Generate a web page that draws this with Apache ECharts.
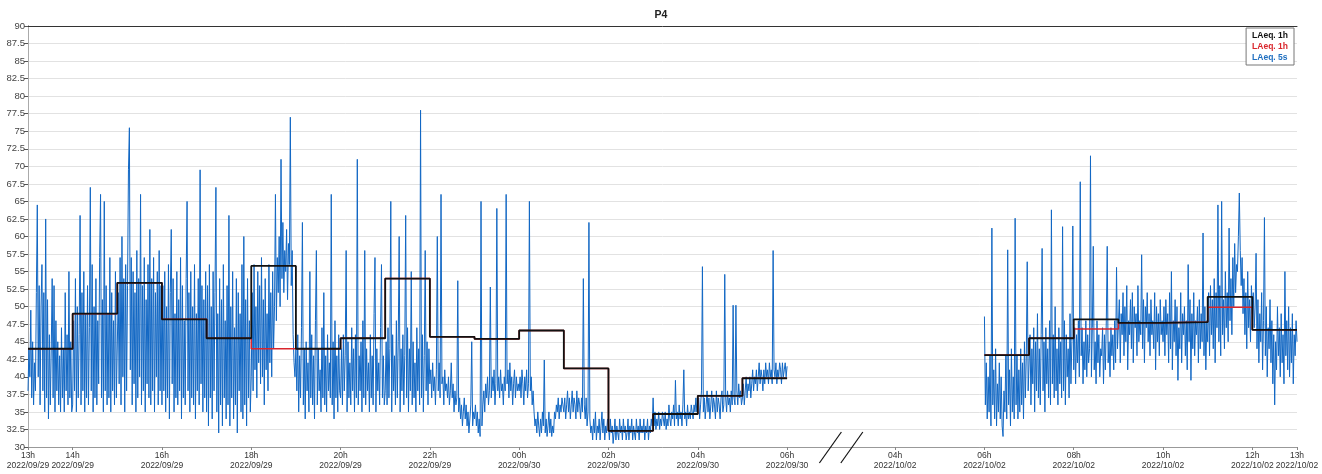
<!DOCTYPE html>
<html>
<head>
<meta charset="utf-8">
<script src="https://cdn.jsdelivr.net/npm/echarts@6/dist/echarts.min.js"></script>
<style>
html,body{margin:0;padding:0;background:#fff;}
#chart{width:1322px;height:474px;}
</style>
</head>
<body>
<div id="chart"></div>
<script>
// ---------------- DATA ----------------
// Axis break: data resumes after 2022/09/30 06h at 2022/10/02 04h (compressed gap, in axis hours)
const BREAK_GAP_HOURS = 2.42;

// X tick labels
const tickHours = ['13h','14h','16h','18h','20h','22h','00h','02h','04h','06h','04h','06h','08h','10h','12h','13h'];
const tickDates = ['2022/09/29','2022/09/29','2022/09/29','2022/09/29','2022/09/29','2022/09/29',
                   '2022/09/30','2022/09/30','2022/09/30','2022/09/30',
                   '2022/10/02','2022/10/02','2022/10/02','2022/10/02','2022/10/02','2022/10/02'];

// Hourly LAeq (first block: 2022/09/29 13h .. 2022/09/30 05h ; second block: 2022/10/02 06h .. 12h)
const hours1h_seg1 = ['2022/09/29 13','2022/09/29 14','2022/09/29 15','2022/09/29 16','2022/09/29 17','2022/09/29 18',
                      '2022/09/29 19','2022/09/29 20','2022/09/29 21','2022/09/29 22','2022/09/29 23','2022/09/30 00',
                      '2022/09/30 01','2022/09/30 02','2022/09/30 03','2022/09/30 04','2022/09/30 05'];
const laeq1hBlack_seg1 = [44.0,49.0,53.4,48.2,45.5,55.8,44.0,45.5,54.0,45.7,45.4,46.6,41.2,32.3,34.7,37.3,39.8];
const laeq1hRed_seg1   = [44.0,49.0,53.4,48.2,45.5,44.0,44.0,45.5,54.0,45.7,45.4,46.6,41.2,32.3,34.7,37.3,39.8];

const hours1h_seg2 = ['2022/10/02 06','2022/10/02 07','2022/10/02 08','2022/10/02 09','2022/10/02 10','2022/10/02 11','2022/10/02 12'];
const laeq1hBlack_seg2 = [43.1,45.5,48.2,47.7,47.8,51.4,46.7];
const laeq1hRed_seg2   = [43.1,45.5,46.8,47.7,47.8,49.9,46.7];

// LAeq 5s readings (one row per hour, evenly spaced within the hour)
const laeq5s_seg1 = [
  [38,44,40,49.5,37,45,36,42,38,52,64.5,40,53,36,50,56,38,52,35,62.5,37,51,34,46,36,44,54,37,53,35,48,38,45,36,43,35,47,37,44,35,52,38,46,36,55,37,45,35], // 13h
  [36,48,38,54,35,50,37,46,63,36,52,38,55,35,49,37,53,36,47,67,38,56,35,50,37,54,36,48,39,57,66,37,51,35,65,38,53,36,49,37,57,35,52,38,48,36,55,37],     // 14h
  [37,52,39,57,36,60,40,54,35,56,38,53,69.5,75.5,41,57,36,55,39,52,35,58,37,54,40,66,36,53,38,57,35,51,39,56,37,61,36,54,38,57,35,52,40,55,36,58,38,53], // 15h
  [36,53,38,55,35,50,37,56,34,52,61,39,54,35,49,37,55,36,51,38,57,34,53,37,48,36,54,65,38,52,35,55,37,50,36,56,34,49,38,54,36,69.5,39,53,35,51,37,55],   // 16h
  [35,53,33,56,37,50,34,55,38,52,67,35,49,32,54,36,51,33,56,37,48,34,53,36,63,33,50,37,55,34,47,36,54,32,52,38,49,35,56,34,60,36,51,33,54,37,48,35],     // 17h
  [40,52,38,56,41,50,37,55,42,53,39,57,40,51,36,54,41,49,38,56,42,52,40,55,44,50,66,48,57,52,60,50,71,54,62,52,58,55,61,51,59,56,77,53,58,46,42,40],     // 18h
  [44,38,46,35,43,37,47,62,36,44,34,45,38,42,35,55,37,46,36,43,34,48,58,36,44,38,41,35,47,37,52,36,43,35,46,38,42,37,66,36,45,34,48,37,43,35,46,38],     // 19h
  [37,44,36,46,38,43,58,35,45,37,42,36,47,38,44,35,46,37,71,36,43,38,45,35,48,37,58,36,44,38,42,35,46,37,43,36,49,57,35,44,38,42,36,47,56,37,43,36],     // 20h
  [38,45,36,47,37,44,65,35,46,38,43,36,48,37,45,60,35,44,38,46,36,43,63,37,47,35,44,38,55,36,45,37,42,35,47,38,44,36,78,37,46,35,43,58,38,45,36,44],     // 21h
  [39,41,37,42,38,40,36,41,60,38,42,37,66,39,40,36,41,38,39,37,40,36,38,42,37,39,35,38,36,37,53.7,35,37,34,36,33,35,37,34,36,33,35,32,34,36,45,33,35], // 22h
  [34,36,33,35,32,34,31.5,65,33,36,38,35,39,37,40,36,38,52.8,37,40,38,41,36,39,64,38,40,37,41,38,39,36,40,38,66,39,41,37,42,38,40,36,39,41,37,40,38,39], // 23h
  [38,40,37,41,39,36,40,38,41,37,39,65,38,40,36,38,35,33,34,32,35,33,31.5,34,32,35,33,42.4,32,34,31.5,33,35,32,34,31.5,33,32,35,34,36,35,37,34,36,35,37,36], // 00h
  [35,37,34,36,38,35,37,34,36,38,35,37,36,34,38,35,37,36,34,37,35,54,36,34,37,33,35,62,34,32,33,31,34,32,35,31,33,32,34,31,33,35,32,34,31,33,32,34],     // 01h
  [33,31,34,32,33,30.5,32,34,31,33,32,31,34,32,33,31,34,32,33,31,32,34,31,33,32,34,31,33,32,31,34,32,33,31,34,32,33,32,34,31,33,32,34,31,33,32,34,33], // 02h
  [37,33,35,32.5,34,33,35,32.5,34,33,35,34,33,35,32.5,34,33,36,34,33,35,34,36,33,39.5,34,35,33,36,34,35,33,36,41,34,35,33,36,34,35,34,36,35,34,36,35,37,35], // 03h
  [35,37,34,36,38,55.7,35,37,34,36,38,35,37,34,36,38,35,37,36,34,38,35,37,36,34,37,38,35,36,54.6,37,35,38,36,37,35,38,36,50.2,37,36,50.2,38,36,39,37,38,36], // 04h
  [37,39,36,38,40,37,39,38,40,37,39,41,38,40,39,41,38,40,42,39,41,40,38,41,39,42,40,41,39,42,40,41,39,58,41,40,42,39,41,40,42,41,39,42,40,41,42,40]      // 05h
];
const laeq5s_seg1_last = 41.5; // reading at 2022/09/30 06h

const laeq5s_seg2 = [
  [48.6,36,42,34,40,35,43,33,61.2,36,41,34,44,33,39,35,42,34,40,33,31.5,38,35,43,34,58.1,36,41,33,44,35,40,34,62.6,36,43,34,41,35,44,36,42,34,45,37,43,56.4,38], // 06h
  [38,46,36,44,39,47,35,45,38,49,37,44,36,46,58.3,38,45,35,47,39,44,37,48,36,63.8,39,46,37,50,38,44,36,47,39,45,37,61.4,38,48,36,46,40,44,37,49,39,45,61.5], // 07h
  [41,47,39,46,42,48,40,67.8,43,47,39,45,41,48,40,46,42,44,71.5,40,47,58.6,41,45,39,48,42,46,40,44,43,47,39,46,41,48,58.6,42,45,40,47,43,46,41,48,42,55.6,44], // 08h
  [44,51,42,49,46,52,43,50,45,53,41,48,46,51,44,52,42,50,47,49,43,53,45,48,46,57.4,44,51,42,50,47,52,45,49,43,51,46,48,44,52,41,50,45,49,43,51,46,48],   // 09h
  [45,50,43,51,46,49,42,52,44,55,41,48,45,51,43,50,39.5,47,44,52,42,49,46,50,43,48,41,56,45,51,39.5,49,44,52,43,48,46,50,42,51,44,49,45,60.5,43,50,41,48], // 10h
  [45,52,43,53,46,51,44,54,42,52,47,64.5,45,53,43,65,46,51,44,55,47,52,45,61.2,48,54,46,57,50,59,52,56,55,60,66.2,58,53,57,49,54,46,52,44,55,47,51,45,53], // 11h
  [49,52,47,50,57.6,44,51,42,49,45,52,41,48,62.7,43,50,40,47,44,51,42,48,39,46,36,45,41,50,43,47,40,49,42,46,39,55,43,48,41,50,40,47,42,49,39,46,43,48]  // 12h
];
const laeq5s_seg2_last = 45; // reading at 2022/10/02 13h

// ---------------- AXIS MAPPING ----------------
// axis value in hours, with compressed break between 2022/09/30 06h and 2022/10/02 04h
function toAxis(date, hour) {
  if (date === '2022/09/29') return hour - 13;
  if (date === '2022/09/30') return hour + 11;
  return 17 + BREAK_GAP_HOURS + (hour - 4); // 2022/10/02
}
function parseDH(s) { const p = s.split(' '); return toAxis(p[0], parseInt(p[1], 10)); }

const tickValues = tickHours.map((h, i) => toAxis(tickDates[i], parseInt(h, 10)));
const X_MIN = tickValues[0], X_MAX = tickValues[tickValues.length - 1];
const breakCenter = (toAxis('2022/09/30', 6) + toAxis('2022/10/02', 4)) / 2;

function stepData(hours, vals) {
  const out = hours.map((h, i) => [parseDH(h), vals[i]]);
  out.push([parseDH(hours[hours.length - 1]) + 1, vals[vals.length - 1]]);
  return out;
}
function fastData(hoursList, rows, last) {
  const out = [];
  rows.forEach((row, r) => {
    const x0 = parseDH(hoursList[r]);
    row.forEach((v, i) => out.push([x0 + i / row.length, v]));
  });
  out.push([parseDH(hoursList[hoursList.length - 1]) + 1, last]);
  return out;
}
const blueData = fastData(hours1h_seg1, laeq5s_seg1, laeq5s_seg1_last)
  .concat([[breakCenter, '-']])
  .concat(fastData(hours1h_seg2, laeq5s_seg2, laeq5s_seg2_last));

// ---------------- CHART ----------------
const FONT = 'Liberation Sans, Arial, sans-serif';
const chart = echarts.init(document.getElementById('chart'), null, {renderer: 'canvas'});
const NAME_RED = 'LAeq. 1h (2)';
const option = {
  animation: false,
  backgroundColor: '#fff',
  textStyle: {fontFamily: FONT},
  title: {text: 'P4', left: 'center', top: 5,
          textStyle: {fontSize: 10.5, fontWeight: 'bold', color: '#222', fontFamily: FONT}},
  legend: {
    top: 28, right: 28, orient: 'vertical', icon: 'none', itemWidth: 0, itemHeight: 9, itemGap: 2,
    padding: [3, 6, 3, 1], backgroundColor: '#fff', borderColor: '#777', borderWidth: 1,
    selectedMode: false,
    formatter: n => n === NAME_RED ? 'LAeq. 1h' : n,
    textStyle: {fontSize: 8.5, fontWeight: 'bold', fontFamily: FONT},
    data: [
      {name: 'LAeq. 1h', textStyle: {color: '#111'}},
      {name: NAME_RED, textStyle: {color: '#d9262c'}},
      {name: 'LAeq. 5s', textStyle: {color: '#1f6fc0'}}
    ]
  },
  grid: {left: 28, right: 25, top: 26, bottom: 27, containLabel: false, outerBoundsMode: 'none'},
  xAxis: [{
    type: 'value', min: X_MIN, max: X_MAX, position: 'bottom',
    axisLine: {show: true, lineStyle: {color: '#999', width: 1}},
    axisTick: {show: true, customValues: tickValues, length: 3, lineStyle: {color: '#888'}},
    splitLine: {show: false},
    axisLabel: {
      customValues: tickValues, margin: 4, showMinLabel: true, showMaxLabel: true, hideOverlap: false,
      formatter: v => {
        let best = 0;
        tickValues.forEach((t, i) => { if (Math.abs(t - v) < Math.abs(tickValues[best] - v)) best = i; });
        return '{h|' + tickHours[best] + '}\n{d|' + tickDates[best] + '}';
      },
      rich: {
        h: {fontSize: 8.5, color: '#333', fontFamily: FONT, lineHeight: 10, align: 'center'},
        d: {fontSize: 8.5, color: '#333', fontFamily: FONT, lineHeight: 10, align: 'center'}
      }
    }
  }, {
    type: 'value', min: X_MIN, max: X_MAX, position: 'top',
    axisLine: {show: true, lineStyle: {color: '#333', width: 1}},
    axisTick: {show: false}, axisLabel: {show: false}, splitLine: {show: false}
  }],
  yAxis: [{
    type: 'value', min: 30, max: 90, interval: 2.5,
    axisLine: {show: true, lineStyle: {color: '#444', width: 1}},
    axisTick: {show: true, length: 4, lineStyle: {color: '#555'}},
    axisLabel: {fontSize: 9.5, color: '#444', margin: 3, fontFamily: FONT},
    splitLine: {show: true, lineStyle: {color: '#e2e2e2', width: 1}}
  }, {
    type: 'value', min: 30, max: 90, interval: 2.5, position: 'right',
    axisLine: {show: true, lineStyle: {color: '#aaa', width: 1}},
    axisTick: {show: false}, axisLabel: {show: false}, splitLine: {show: false}
  }],
  series: [
    {name: 'LAeq. 5s', type: 'line', data: blueData, showSymbol: false, symbol: 'none', sampling: null,
     lineStyle: {color: '#1167c4', width: 1}, itemStyle: {color: '#1f6fc0'}, z: 2, connectNulls: false},
    {name: NAME_RED, type: 'line', step: 'end', data: stepData(hours1h_seg1, laeq1hRed_seg1), symbol: 'none',
     lineStyle: {color: '#d9262c', width: 1.5}, itemStyle: {color: '#d9262c'}, z: 3},
    {name: NAME_RED, type: 'line', step: 'end', data: stepData(hours1h_seg2, laeq1hRed_seg2), symbol: 'none',
     lineStyle: {color: '#d9262c', width: 1.5}, itemStyle: {color: '#d9262c'}, z: 3},
    {name: 'LAeq. 1h', type: 'line', step: 'end', data: stepData(hours1h_seg1, laeq1hBlack_seg1), symbol: 'none',
     lineStyle: {color: '#111', width: 1.8}, itemStyle: {color: '#111'}, z: 4},
    {name: 'LAeq. 1h', type: 'line', step: 'end', data: stepData(hours1h_seg2, laeq1hBlack_seg2), symbol: 'none',
     lineStyle: {color: '#111', width: 1.8}, itemStyle: {color: '#111'}, z: 4}
  ]
};
chart.setOption(option);

// axis-break marks "//" placed through the axis scale
const pA = chart.convertToPixel({xAxisIndex: 0, yAxisIndex: 0}, [breakCenter - 0.24, 30]);
const pB = chart.convertToPixel({xAxisIndex: 0, yAxisIndex: 0}, [breakCenter + 0.24, 30]);
chart.setOption({
  graphic: [pA, pB].map(p => ({
    type: 'line', z: 100,
    shape: {x1: p[0] - 11, y1: p[1] + 16, x2: p[0] + 11, y2: p[1] - 15},
    style: {stroke: '#111', lineWidth: 1.2}
  }))
});
</script>
</body>
</html>
